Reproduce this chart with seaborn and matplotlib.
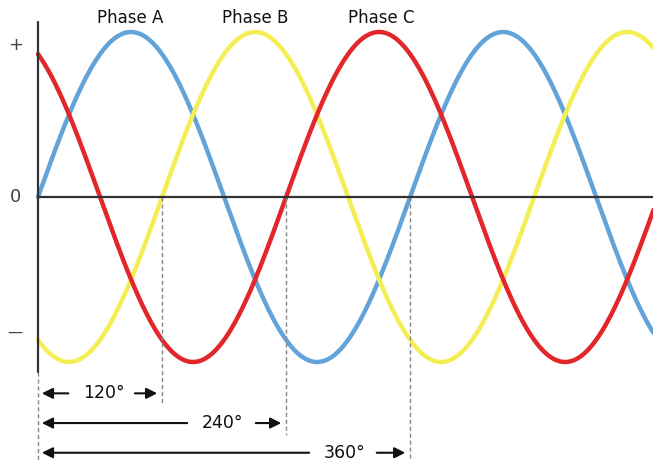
import matplotlib
matplotlib.use("Agg")
import matplotlib.pyplot as plt
import numpy as np
import seaborn as sns

# phase data (degrees)
phase_names = ["Phase A", "Phase B", "Phase C"]
phase_shift = [0, -120, 120]          # sin(theta + shift)
phase_colors = ["#62a3da", "#f4ee55", "#e2262a"]
label_x = [89, 210, 332]              # where the phase names sit
amplitude = 1.0

spans = [120, 240, 360]
span_labels = ["120°", "240°", "360°"]
span_y = [-1.19, -1.37, -1.55]
span_text_x = [64, 178, 297]
span_left_end = [32, 147, 265]
span_right_start = [91, 208, 325]
dash_bottom = [-1.26, -1.44, -1.62]

tick_pos = [0.92, 0.0, -0.82]
tick_txt = ["+", "0", "—"]

theta = np.linspace(0, 600, 1201)

sns.set_style("white")
fig = plt.figure(figsize=(6.53, 4.61), dpi=100)
ax = fig.add_axes([0, 0, 1, 1])

for name, shift, col in zip(phase_names, phase_shift, phase_colors):
    y = amplitude * np.sin(np.radians(theta + shift))
    sns.lineplot(x=theta, y=y, color=col, linewidth=3.2, ax=ax, legend=False)

# axes lines
ax.plot([0, 0], [-1.06, 1.06], color="#333333", lw=1.6, zorder=5)
ax.plot([0, 620], [0, 0], color="#333333", lw=1.6, zorder=5)

# dashed guides
ax.plot([0, 0], [-1.06, -1.62], color="#888888", lw=1, ls=(0, (3, 2)))
for s, b in zip(spans, dash_bottom):
    ax.plot([s, s], [0, b], color="#888888", lw=1, ls=(0, (3, 2)))

# span arrows
for s, lab, y, tx, le, rs in zip(spans, span_labels, span_y, span_text_x,
                                 span_left_end, span_right_start):
    ax.annotate("", xy=(1, y), xytext=(le, y),
                arrowprops=dict(arrowstyle="-|>", color="#111111", lw=1.5,
                                mutation_scale=16))
    ax.annotate("", xy=(s - 2, y), xytext=(rs, y),
                arrowprops=dict(arrowstyle="-|>", color="#111111", lw=1.5,
                                mutation_scale=16))
    ax.text(tx, y, lab, ha="center", va="center", fontsize=12.5, color="#111111")

for name, lx in zip(phase_names, label_x):
    ax.text(lx, 1.085, name, ha="center", va="center", fontsize=12,
            color="#111111")

for p, t in zip(tick_pos, tick_txt):
    ax.text(-22, p, t, ha="center", va="center", fontsize=13 if t != "—" else 11,
            color="#444444")

ax.set_xlim(-36.8, 595)
ax.set_ylim(-1.6, 1.194)
ax.axis("off")

fig.savefig("out.png", dpi=100)
